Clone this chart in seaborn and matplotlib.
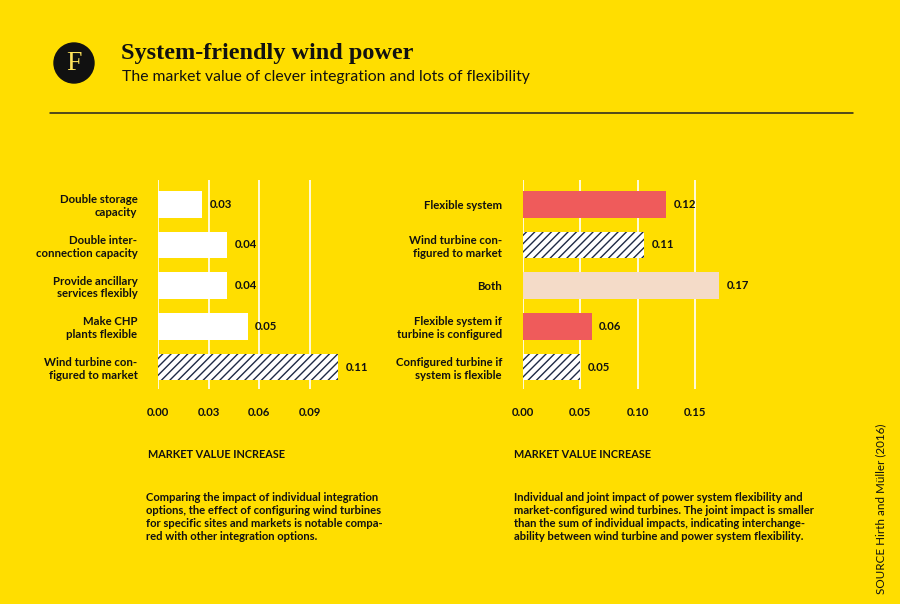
import pandas as pd
import seaborn as sns
import matplotlib.pyplot as plt
from matplotlib.patches import Circle

# Data
left_labels = ['Double storage\ncapacity', 'Double inter-\nconnection capacity',
               'Provide ancillary\nservices flexibly', 'Make CHP\nplants flexible',
               'Wind turbine con-\nfigured to market']
left_values = [0.026, 0.041, 0.041, 0.053, 0.107]
left_kind = ['option', 'option', 'option', 'option', 'turbine']
left_ticks = [0.00, 0.03, 0.06, 0.09]

right_labels = ['Flexible system', 'Wind turbine con-\nfigured to market', 'Both',
                'Flexible system if\nturbine is configured',
                'Configured turbine if\nsystem is flexible']
right_values = [0.125, 0.106, 0.171, 0.060, 0.050]
right_kind = ['system', 'turbine', 'both', 'system', 'turbine']
right_ticks = [0.00, 0.05, 0.10, 0.15]

left_text = ['0.03', '0.04', '0.04', '0.05', '0.11']
right_text = ['0.12', '0.11', '0.17', '0.06', '0.05']

YELLOW = '#FFDE00'
NAVY = '#1E2A45'
colors = {'option': 'white', 'turbine': 'white', 'system': '#EF5B5B', 'both': '#F4DBC8'}

sns.set_style('white')
plt.rcParams['font.family'] = ['Lato', 'DejaVu Sans']
plt.rcParams['hatch.linewidth'] = 1.0
plt.rcParams['hatch.color'] = NAVY

fig = plt.figure(figsize=(9, 6.04), dpi=100, facecolor=YELLOW)


def draw(ax, labels, values, kinds, ticks, texts, xmax):
    df = pd.DataFrame({'label': labels, 'value': values, 'kind': kinds})
    sns.barplot(data=df, y='label', x='value', hue='label', legend=False,
                palette=[colors[k] for k in kinds], width=0.656,
                linewidth=0, saturation=1, ax=ax)
    ax.set_facecolor(YELLOW)
    for cont, k, t in zip(ax.containers, kinds, texts):
        for bar in cont:
            if k == 'turbine':
                bar.set_hatch('////')
                bar.set_edgecolor(NAVY)
                bar.set_linewidth(0)
        ax.bar_label(cont, labels=[t], padding=5.5, fontsize=8.2, fontweight='bold',
                     color='#111111')
    ax.set_xlim(0, xmax)
    ax.set_ylim(4.55, -0.6)
    ax.set_xticks(ticks)
    ax.set_xticklabels([f'{v:.2f}' for v in ticks])
    ax.grid(axis='x', color='white', linewidth=1.2)
    ax.set_axisbelow(True)
    for s in ax.spines.values():
        s.set_visible(False)
    ax.tick_params(axis='both', length=0, labelsize=8.2, colors='#111111')
    ax.tick_params(axis='y', pad=15)
    ax.tick_params(axis='x', pad=13)
    for lab in ax.get_yticklabels() + ax.get_xticklabels():
        lab.set_fontweight('bold')
    ax.set_xlabel('')
    ax.set_ylabel('')


ax1 = fig.add_axes([0.1759, 0.3553, 0.2244, 0.347])
draw(ax1, left_labels, left_values, left_kind, left_ticks, left_text, 0.12)
ax2 = fig.add_axes([0.5808, 0.3553, 0.2296, 0.347])
draw(ax2, right_labels, right_values, right_kind, right_ticks, right_text, 0.18)

# Header: round badge in inches so it stays a circle
badge = Circle((0.74, 6.04 - 0.63), 0.2, transform=fig.dpi_scale_trans,
               color='#111111', zorder=3)
fig.patches.append(badge)
fig.text(74 / 900, 1 - 64 / 604, 'F', family='Liberation Serif', fontsize=20,
         color='#FFE45C', ha='center', va='center', zorder=4)
fig.text(121 / 900, 1 - 53 / 604, 'System-friendly wind power', family='Liberation Serif',
         fontweight='bold', fontsize=17.5, color='#111111', va='center')
fig.text(122 / 900, 1 - 77 / 604, 'The market value of clever integration and lots of flexibility',
         fontsize=11.3, color='#111111', va='center')
fig.add_artist(plt.Line2D([50 / 900, 853 / 900], [1 - 113 / 604, 1 - 113 / 604],
                          color='#222222', linewidth=1.1))

# Axis titles and captions
for x in (148, 514):
    fig.text(x / 900, 1 - 454 / 604, 'MARKET VALUE INCREASE', fontsize=7.8,
             fontweight='bold', color='#111111', va='center')

fig.text(146 / 900, 1 - 492 / 604,
         'Comparing the impact of individual integration\n'
         'options, the effect of configuring wind turbines\n'
         'for specific sites and markets is notable compa-\n'
         'red with other integration options.',
         fontsize=8.1, fontweight='bold', color='#111111', va='top', linespacing=1.22)
fig.text(514 / 900, 1 - 492 / 604,
         'Individual and joint impact of power system flexibility and\n'
         'market-configured wind turbines. The joint impact is smaller\n'
         'than the sum of individual impacts, indicating interchange-\n'
         'ability between wind turbine and power system flexibility.',
         fontsize=8.1, fontweight='bold', color='#111111', va='top', linespacing=1.22)

fig.text(881 / 900, 1 - 594 / 604, 'SOURCE Hirth and Müller (2016)', rotation=90,
         fontsize=8.4, color='#111111', ha='center', va='bottom')

fig.savefig('out.png', dpi=100, facecolor=YELLOW)
